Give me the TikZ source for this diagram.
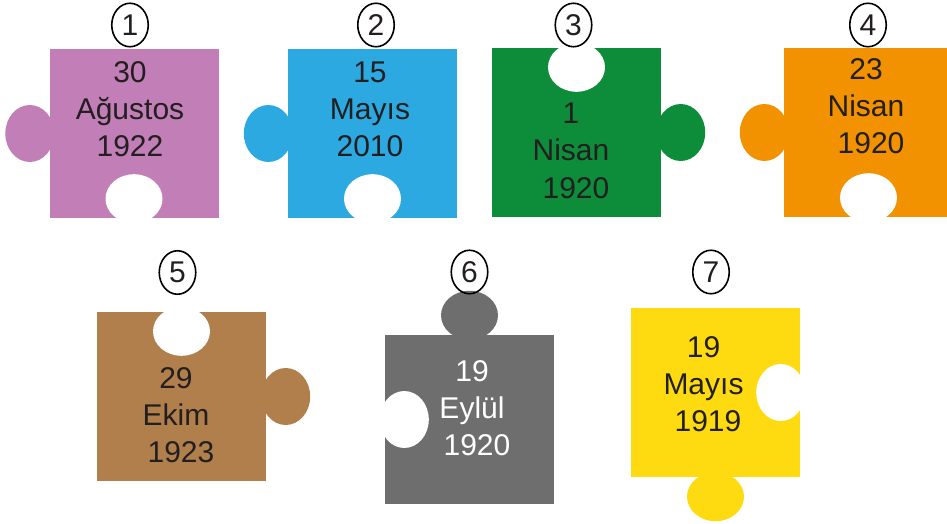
\documentclass[tikz,border=0pt]{standalone}
\usepackage{fontspec}
\setmainfont{Liberation Sans}
\usetikzlibrary{shapes.geometric}
\definecolor{cpurple}{HTML}{C27EB7}
\definecolor{cblue}{HTML}{2DA9E1}
\definecolor{cgreen}{HTML}{0D8C3A}
\definecolor{corange}{HTML}{F29200}
\definecolor{cbrown}{HTML}{B07F4C}
\definecolor{cgray}{HTML}{6F6E6E}
\definecolor{cyellow}{HTML}{FEDB10}
\definecolor{ctext}{HTML}{231F20}
\begin{document}
\begin{tikzpicture}[x=1pt,y=-1pt,
  sq/.style={rectangle, minimum width=169pt, minimum height=169pt, inner sep=0pt, fill=#1},
  txt/.style={text=ctext, font=\fontsize{30}{37}\selectfont, text width=200pt, align=center, anchor=base, inner sep=0pt},
  num/.style={ellipse, draw=black, line width=1.6pt, minimum width=36.5pt, minimum height=43.5pt, inner sep=0pt, text=ctext, font=\fontsize{30}{36}\selectfont}
]
\useasboundingbox (0,0) rectangle (947,524);
\clip (0,0) rectangle (947,524);

% piece 1
\node[sq=cpurple] (p1) at (134,133.5) {};
\fill[cpurple] ([xshift=-19.5pt]p1.west) ellipse [x radius=24.5pt, y radius=28.5pt];
\fill[white] ([yshift=19.5pt]p1.south) ellipse [x radius=28.5pt, y radius=24.5pt];
\node[txt] (t1) at (130,83) {30\\Ağustos\\1922};
\node[num] (n1) at (130,25) {1};

% piece 2
\node[sq=cblue] (p2) at (372.5,133.5) {};
\fill[cblue] ([xshift=-19.5pt]p2.west) ellipse [x radius=24.5pt, y radius=28.5pt];
\fill[white] ([yshift=19.5pt]p2.south) ellipse [x radius=28.5pt, y radius=24.5pt];
\node[txt] (t2) at (370,83) {15\\Mayıs\\2010};
\node[num] (n2) at (376,25) {2};

% piece 3
\node[sq=cgreen] (p3) at (576.5,132.5) {};
\fill[cgreen] ([xshift=19.5pt]p3.east) ellipse [x radius=24.5pt, y radius=28.5pt];
\fill[white] ([yshift=-19.5pt]p3.north) ellipse [x radius=28.5pt, y radius=24.5pt];
\node[txt] (t3) at (571,124) {1\\Nisan\\\hspace*{10pt}1920};
\node[num] (n3) at (573.5,25) {3};

% piece 4
\node[sq=corange] (p4) at (868.5,132.5) {};
\fill[corange] ([xshift=-19.5pt]p4.west) ellipse [x radius=24.5pt, y radius=28.5pt];
\fill[white] ([yshift=19.5pt]p4.south) ellipse [x radius=28.5pt, y radius=24.5pt];
\node[txt] (t4) at (866,80) {23\\Nisan\\\hspace*{10pt}1920};
\node[num] (n4) at (868,25) {4};

% piece 5
\node[sq=cbrown] (p5) at (181.5,396.5) {};
\fill[cbrown] ([xshift=19.5pt]p5.east) ellipse [x radius=24.5pt, y radius=28.5pt];
\fill[white] ([yshift=-19.5pt]p5.north) ellipse [x radius=28.5pt, y radius=24.5pt];
\node[txt] (t5) at (176,388) {29\\Ekim\\\hspace*{10pt}1923};
\node[num] (n5) at (177.5,272.5) {5};

% piece 6
\node[sq=cgray] (p6) at (469.5,419.5) {};
\fill[cgray] ([yshift=19.5pt]p6.north) ellipse [x radius=28.5pt, y radius=24.5pt];
\fill[white] ([xshift=19.5pt]p6.west) ellipse [x radius=24.5pt, y radius=28.5pt];
\node[txt, text=white] (t6) at (472,381) {19\\Eylül\\\hspace*{10pt}1920};
\node[num] (n6) at (469.5,272) {6};

% piece 7
\node[sq=cyellow] (p7) at (715.5,392.5) {};
\fill[cyellow] ([yshift=-19.5pt]p7.south) ellipse [x radius=28.5pt, y radius=24.5pt];
\fill[white] ([xshift=-19.5pt]p7.east) ellipse [x radius=24.5pt, y radius=28.5pt];
\node[txt] (t7) at (703.5,357) {19\\Mayıs\\\hspace*{9pt}1919};
\node[num] (n7) at (711,272) {7};
\end{tikzpicture}
\end{document}
